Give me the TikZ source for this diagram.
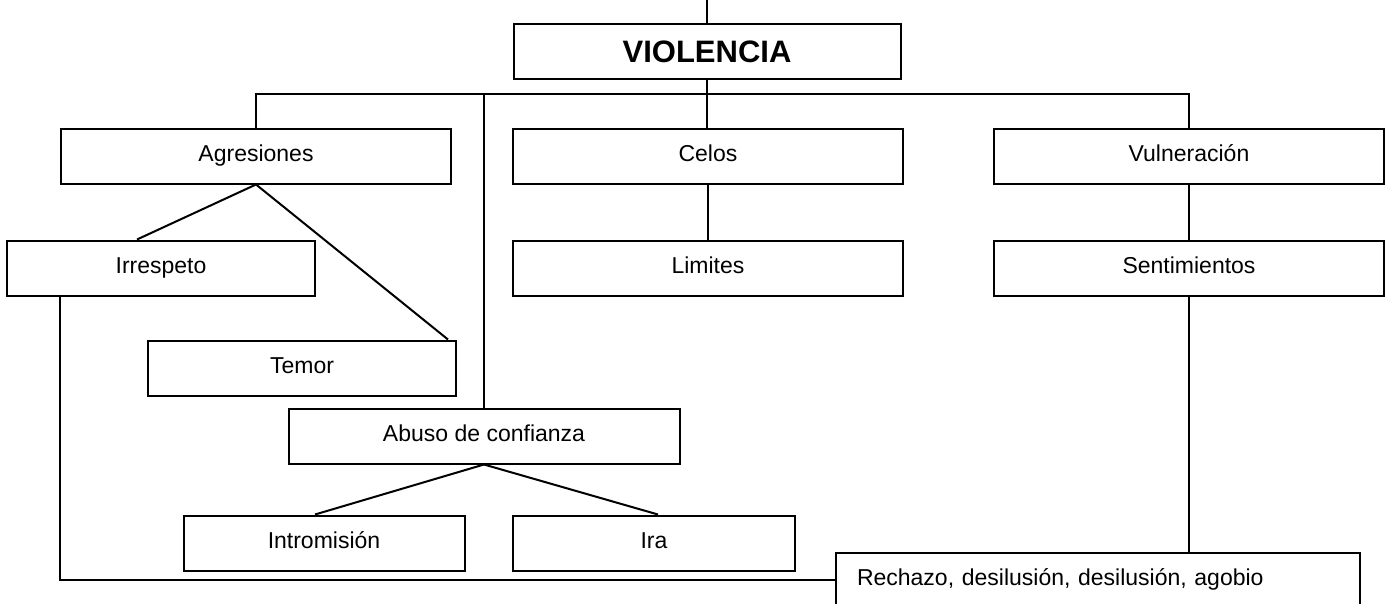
\documentclass[tikz,border=0pt]{standalone}
\usepackage{fontspec}
\setmainfont{Liberation Sans}
\begin{document}
\begin{tikzpicture}[x=1pt, y=-1pt, line width=2pt,
    box/.style={draw, rectangle, inner sep=0pt, minimum height=55pt,
      text height=16.5pt, text depth=5pt,
      font=\fontsize{23}{28}\selectfont}]
  \useasboundingbox (0,0) rectangle (1393,603);
  \clip (0,0) rectangle (1393,603);
  % boxes
  \node[box, minimum width=387pt, text height=22pt, text depth=0pt,
    font=\fontsize{31}{36}\selectfont\bfseries]
    (viol) at (707,51) {VIOLENCIA};
  \node[box, minimum width=390pt] (agr) at (256,156) {Agresiones};
  \node[box, minimum width=390pt] (celos) at (708,156) {Celos};
  \node[box, minimum width=390pt] (vuln) at (1189,156) {Vulneración};
  \node[box, minimum width=308pt] (irr) at (161,268) {Irrespeto};
  \node[box, minimum width=390pt] (lim) at (708,268) {Limites};
  \node[box, minimum width=390pt] (sent) at (1189,268) {Sentimientos};
  \node[box, minimum width=308pt] (temor) at (302,368) {Temor};
  \node[box, minimum width=391pt] (abuso) at (484,436) {Abuso de confianza};
  \node[box, minimum width=281pt] (intro) at (324,543) {Intromisión};
  \node[box, minimum width=282pt] (ira) at (654,543) {Ira};
  \node[box, text width=482pt, inner xsep=21pt, align=left]
    (rech) at (1098,580) {Rechazo, desilusión, desilusión, agobio};
  \coordinate (top) at (707,0);
  \coordinate (bus) at (0,94);
  % connectors
  \draw (top) -- (viol.north);
  \draw (viol.south) -- (viol.south |- celos.north);
  \draw (agr.north) -- (agr.north |- bus) -- (vuln.north |- bus) -- (vuln.north);
  \draw (abuso.north) -- (abuso.north |- bus);
  \draw (agr.south) -- ([xshift=-24pt]irr.north);
  \draw (agr.south) -- ([xshift=-9pt]temor.north east);
  \draw (celos.south) -- (lim.north);
  \draw (vuln.south) -- (sent.north);
  \draw (abuso.south) -- ([xshift=-9pt]intro.north);
  \draw (abuso.south) -- ([xshift=4pt]ira.north);
  \draw (sent.south) -- (sent.south |- rech.north);
  \draw ([xshift=54pt]irr.south west) |- (rech.west);
\end{tikzpicture}
\end{document}
